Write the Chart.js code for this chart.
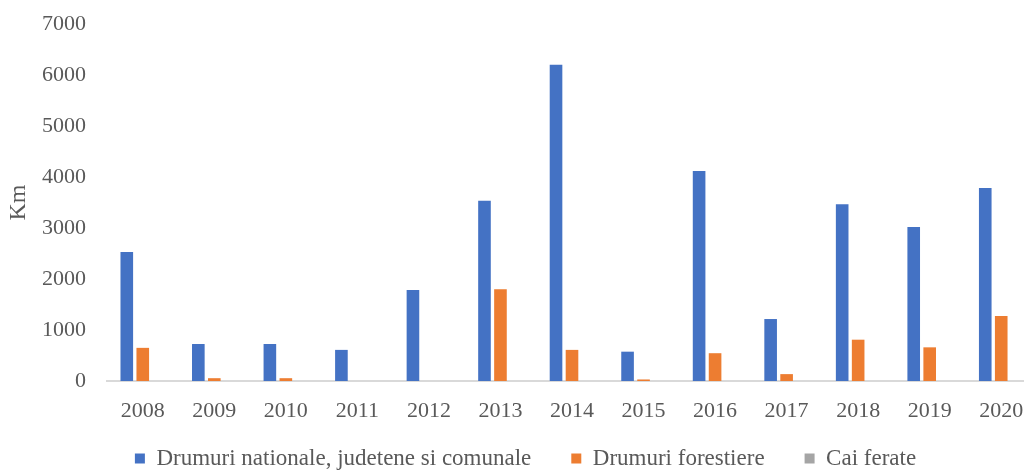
<!DOCTYPE html>
<html>
<head>
<meta charset="utf-8">
<script src="https://cdn.jsdelivr.net/npm/chart.js@4/dist/chart.umd.min.js"></script>
<style>
  html, body { margin: 0; padding: 0; background: #fff; overflow: hidden; }
  #wrap { width: 1040px; height: 470px; }
</style>
</head>
<body>
<div id="wrap"><canvas id="canvas"></canvas></div>
<script>
const years = ["2008", "2009", "2010", "2011", "2012", "2013", "2014", "2015", "2016", "2017", "2018", "2019", "2020"];
const drumuriNationale = [2530, 725, 725, 610, 1785, 3535, 6200, 575, 4120, 1215, 3465, 3020, 3785];
const drumuriForestiere = [650, 55, 55, 0, 0, 1800, 610, 30, 545, 135, 810, 660, 1275];
const caiFerate = [0, 0, 0, 0, 0, 0, 0, 0, 0, 0, 0, 0, 0];
const yTicks = [0, 1000, 2000, 3000, 4000, 5000, 6000, 7000];

const textColor = '#595959';
const serif = "'Liberation Serif', 'DejaVu Serif', serif";

// pull the legend row up closer to the year labels
const legendShift = {
    id: 'legendShift',
    afterLayout(chart) {
        const lg = chart.legend;
        lg.top -= 16;
        lg.bottom -= 16;
    }
};

function create() {
    const data = {
        labels: years,
        datasets: [
            { label: 'Drumuri nationale, judetene si comunale', data: drumuriNationale, backgroundColor: '#4472C4' },
            { label: 'Drumuri forestiere', data: drumuriForestiere, backgroundColor: '#ED7D31' },
            { label: 'Cai ferate', data: caiFerate, backgroundColor: '#A5A5A5' }
        ]
    };
    const config = {
        type: 'bar',
        data: data,
        plugins: [legendShift],
        options: {
            responsive: true,
            maintainAspectRatio: false,
            animation: false,
            layout: { padding: { top: 24, right: 3, left: 14, bottom: -26 } },
            datasets: { bar: { categoryPercentage: 0.67, barPercentage: 0.79 } },
            scales: {
                x: {
                    grid: { display: false },
                    border: { display: true, color: '#d9d9d9', width: 2 },
                    ticks: { color: textColor, font: { family: serif, size: 22 }, padding: 9, maxRotation: 0 },
                    afterFit: function (scale) { scale.height = 42; }
                },
                y: {
                    min: yTicks[0],
                    max: yTicks[yTicks.length - 1],
                    grid: { display: false, drawTicks: false },
                    border: { display: false },
                    afterBuildTicks: function (scale) { scale.ticks = yTicks.map(v => ({ value: v })); },
                    ticks: {
                        color: textColor,
                        font: { family: serif, size: 22 },
                        padding: 21,
                        callback: v => String(v)
                    },
                    title: { display: true, text: 'Km', color: textColor, font: { family: serif, size: 24 }, padding: { top: -10, bottom: 0 } },
                    afterFit: function (scale) {
                        scale.width = 93;
                        scale.paddingTop = 0;
                        scale.paddingBottom = 0;
                    }
                }
            },
            plugins: {
                legend: {
                    position: 'bottom',
                    align: 'center',
                    labels: {
                        color: textColor,
                        font: { family: serif, size: 23 },
                        boxWidth: 10,
                        boxHeight: 10,
                        padding: 40
                    }
                },
                tooltip: { enabled: false }
            }
        }
    };

    var canvas = document.getElementById("canvas");
    const chart = new Chart(canvas, config);
}
create();
</script>
</body>
</html>
